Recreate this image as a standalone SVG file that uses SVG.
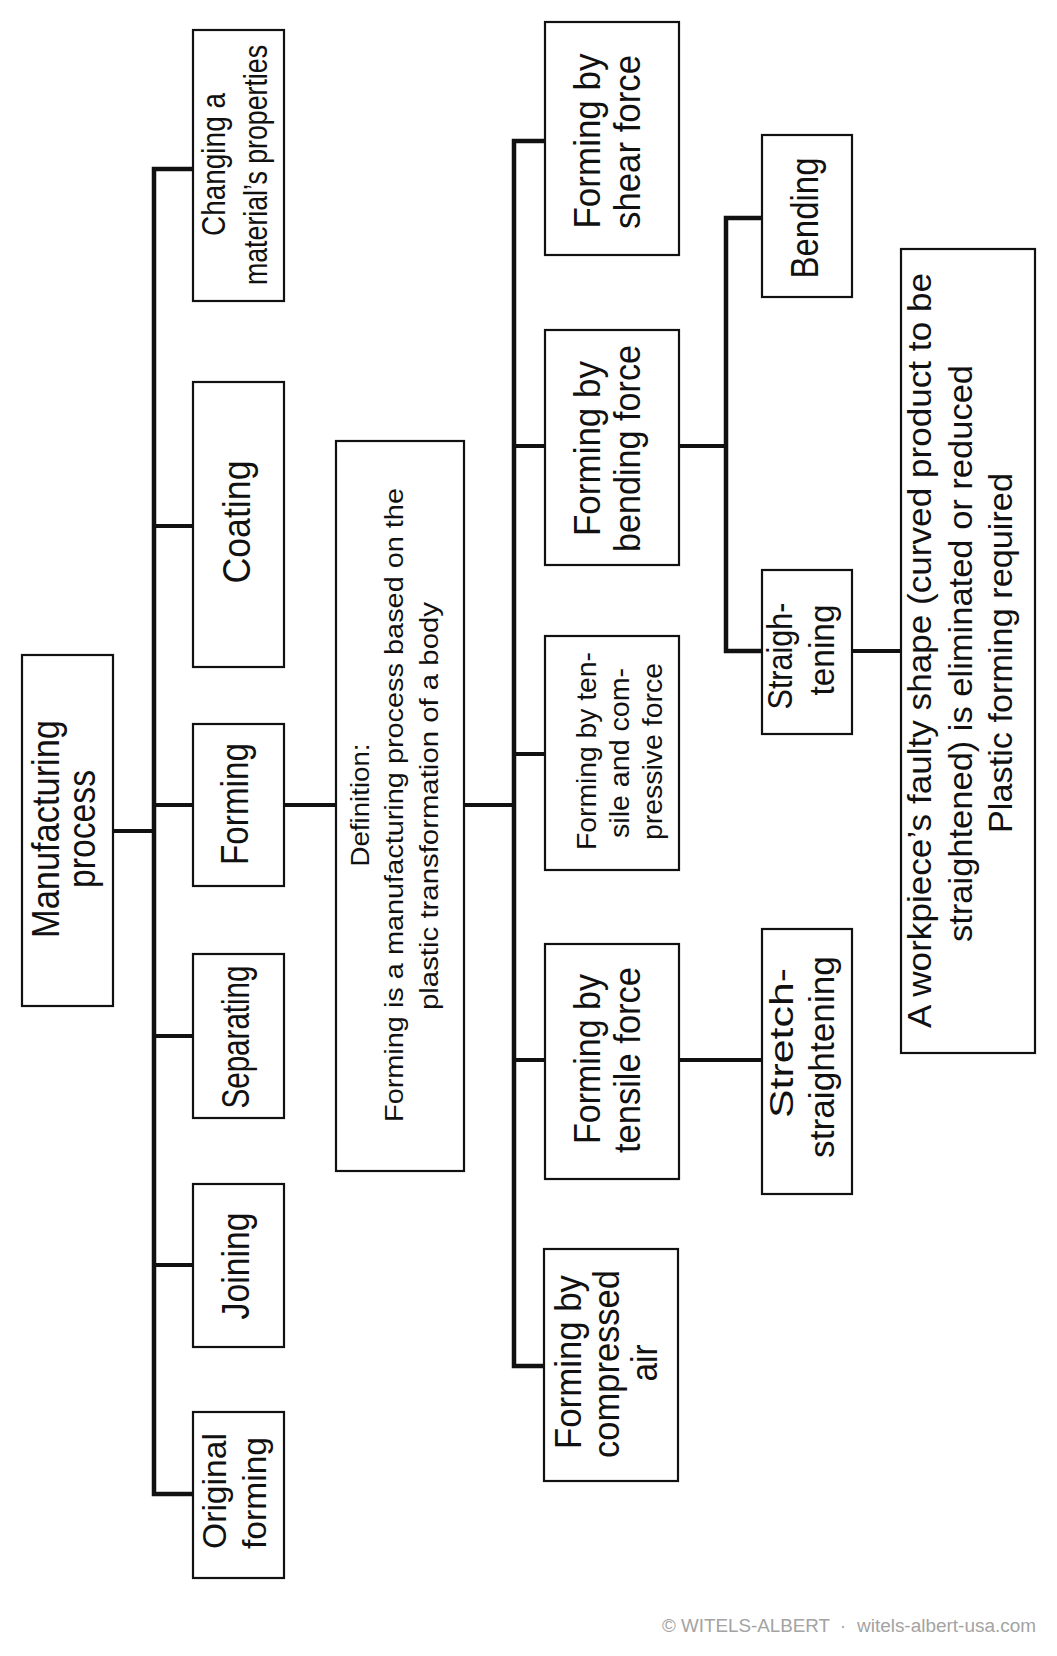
<svg xmlns="http://www.w3.org/2000/svg" width="1057" height="1656" viewBox="0 0 1057 1656">
<style>
.box{fill:#fff;stroke:#111;stroke-width:2.2}
.t{font-family:"Liberation Sans",Arial,Helvetica,sans-serif;fill:#111;text-anchor:middle}
.c{stroke:#111;stroke-width:4;fill:none;stroke-linejoin:miter}
.tr{stroke:#111;stroke-width:4.5;fill:none}
.wm{font-family:"Liberation Sans",Arial,Helvetica,sans-serif;fill:#a3a3a3;font-size:18px}
</style>
<rect width="1057" height="1656" fill="#fff"/>
<g id="connectors">
<path class="tr" d="M193,169H154V1494H193"/>
<path class="c" d="M113,831H154"/>
<path class="c" d="M154,526H193"/>
<path class="c" d="M154,805H193"/>
<path class="c" d="M154,1036H193"/>
<path class="c" d="M154,1265H193"/>
<path class="c" d="M284,805H336"/>
<path class="c" d="M464,805H514"/>
<path class="tr" d="M545,141H514V1366H545"/>
<path class="c" d="M514,446H545"/>
<path class="c" d="M514,754H545"/>
<path class="c" d="M514,1060H545"/>
<path class="c" d="M679,446H726"/>
<path class="tr" d="M762,218H726V651H762"/>
<path class="c" d="M852,651H901"/>
<path class="c" d="M679,1060H762"/>
</g>
<g id="manufacturing-process">
<rect class="box" x="22" y="655" width="91" height="351"/>
<text class="t" font-size="38" transform="translate(59,829) rotate(-90)" textLength="218" lengthAdjust="spacingAndGlyphs">Manufacturing</text>
<text class="t" font-size="38" transform="translate(95,829) rotate(-90)" textLength="118" lengthAdjust="spacingAndGlyphs">process</text>
</g>
<g id="changing-properties">
<rect class="box" x="193" y="30" width="91" height="271"/>
<text class="t" font-size="33" transform="translate(225,164.5) rotate(-90)" textLength="143" lengthAdjust="spacingAndGlyphs">Changing a</text>
<text class="t" font-size="33" transform="translate(267,165) rotate(-90)" textLength="240" lengthAdjust="spacingAndGlyphs">material’s properties</text>
</g>
<g id="coating">
<rect class="box" x="193" y="382" width="91" height="285"/>
<text class="t" font-size="38" transform="translate(250,522) rotate(-90)" textLength="123" lengthAdjust="spacingAndGlyphs">Coating</text>
</g>
<g id="forming">
<rect class="box" x="193" y="724" width="91" height="162"/>
<text class="t" font-size="38" transform="translate(248,804) rotate(-90)" textLength="122" lengthAdjust="spacingAndGlyphs">Forming</text>
</g>
<g id="separating">
<rect class="box" x="193" y="954" width="91" height="164"/>
<text class="t" font-size="38" transform="translate(249,1037) rotate(-90)" textLength="143" lengthAdjust="spacingAndGlyphs">Separating</text>
</g>
<g id="joining">
<rect class="box" x="193" y="1184" width="91" height="163"/>
<text class="t" font-size="38" transform="translate(249,1266) rotate(-90)" textLength="107" lengthAdjust="spacingAndGlyphs">Joining</text>
</g>
<g id="original-forming">
<rect class="box" x="193" y="1412" width="91" height="166"/>
<text class="t" font-size="34" transform="translate(226,1491) rotate(-90)" textLength="116" lengthAdjust="spacingAndGlyphs">Original</text>
<text class="t" font-size="34" transform="translate(266,1493) rotate(-90)" textLength="112" lengthAdjust="spacingAndGlyphs">forming</text>
</g>
<g id="definition">
<rect class="box" x="336" y="441" width="128" height="730"/>
<text class="t" font-size="26.5" transform="translate(369,805) rotate(-90)" textLength="123" lengthAdjust="spacingAndGlyphs">Definition:</text>
<text class="t" font-size="26.5" transform="translate(403,805) rotate(-90)" textLength="634" lengthAdjust="spacingAndGlyphs">Forming is a manufacturing process based on the</text>
<text class="t" font-size="26.5" transform="translate(438,806) rotate(-90)" textLength="408" lengthAdjust="spacingAndGlyphs">plastic transformation of a body</text>
</g>
<g id="shear-force">
<rect class="box" x="545" y="22" width="134" height="233"/>
<text class="t" font-size="36" transform="translate(600,141) rotate(-90)" textLength="175" lengthAdjust="spacingAndGlyphs">Forming by</text>
<text class="t" font-size="36" transform="translate(640,142) rotate(-90)" textLength="174" lengthAdjust="spacingAndGlyphs">shear force</text>
</g>
<g id="bending-force">
<rect class="box" x="545" y="330" width="134" height="235"/>
<text class="t" font-size="36" transform="translate(600,448.5) rotate(-90)" textLength="175" lengthAdjust="spacingAndGlyphs">Forming by</text>
<text class="t" font-size="36" transform="translate(640,448.5) rotate(-90)" textLength="207" lengthAdjust="spacingAndGlyphs">bending force</text>
</g>
<g id="tensile-compressive-force">
<rect class="box" x="545" y="636" width="134" height="234"/>
<text class="t" font-size="28" transform="translate(596,751) rotate(-90)" textLength="198" lengthAdjust="spacingAndGlyphs">Forming by ten-</text>
<text class="t" font-size="28" transform="translate(629,753) rotate(-90)" textLength="170" lengthAdjust="spacingAndGlyphs">sile and com-</text>
<text class="t" font-size="28" transform="translate(662,751.5) rotate(-90)" textLength="177" lengthAdjust="spacingAndGlyphs">pressive force</text>
</g>
<g id="tensile-force">
<rect class="box" x="545" y="944" width="134" height="235"/>
<text class="t" font-size="36" transform="translate(600,1059) rotate(-90)" textLength="170" lengthAdjust="spacingAndGlyphs">Forming by</text>
<text class="t" font-size="36" transform="translate(640,1060) rotate(-90)" textLength="186" lengthAdjust="spacingAndGlyphs">tensile force</text>
</g>
<g id="compressed-air">
<rect class="box" x="544" y="1249" width="134" height="232"/>
<text class="t" font-size="36" transform="translate(581,1362) rotate(-90)" textLength="174" lengthAdjust="spacingAndGlyphs">Forming by</text>
<text class="t" font-size="36" transform="translate(619,1364) rotate(-90)" textLength="188" lengthAdjust="spacingAndGlyphs">compressed</text>
<text class="t" font-size="36" transform="translate(657,1363) rotate(-90)" textLength="37" lengthAdjust="spacingAndGlyphs">air</text>
</g>
<g id="bending">
<rect class="box" x="762" y="135" width="90" height="162"/>
<text class="t" font-size="38" transform="translate(818,218) rotate(-90)" textLength="121" lengthAdjust="spacingAndGlyphs">Bending</text>
</g>
<g id="straightening">
<rect class="box" x="762" y="570" width="90" height="164"/>
<text class="t" font-size="35" transform="translate(792,656) rotate(-90)" textLength="107" lengthAdjust="spacingAndGlyphs">Straigh-</text>
<text class="t" font-size="35" transform="translate(834,650) rotate(-90)" textLength="91" lengthAdjust="spacingAndGlyphs">tening</text>
</g>
<g id="stretch-straightening">
<rect class="box" x="762" y="929" width="90" height="265"/>
<text class="t" font-size="34" transform="translate(793,1043) rotate(-90)" textLength="150" lengthAdjust="spacingAndGlyphs">Stretch-</text>
<text class="t" font-size="35" transform="translate(834,1057) rotate(-90)" textLength="202" lengthAdjust="spacingAndGlyphs">straightening</text>
</g>
<g id="straightening-note">
<rect class="box" x="901" y="249" width="134" height="804"/>
<text class="t" font-size="33" transform="translate(931,650.5) rotate(-90)" textLength="755" lengthAdjust="spacingAndGlyphs">A workpiece’s faulty shape (curved product to be</text>
<text class="t" font-size="33" transform="translate(972,653.5) rotate(-90)" textLength="577" lengthAdjust="spacingAndGlyphs">straightened) is eliminated or reduced</text>
<text class="t" font-size="33" transform="translate(1012,653) rotate(-90)" textLength="360" lengthAdjust="spacingAndGlyphs">Plastic forming required</text>
</g>
<g id="watermark">
<text class="wm" x="662" y="1632" textLength="168" lengthAdjust="spacingAndGlyphs">© WITELS-ALBERT</text>
<text class="wm" x="843" y="1632" text-anchor="middle">·</text>
<text class="wm" x="857" y="1632" textLength="179" lengthAdjust="spacingAndGlyphs">witels-albert-usa.com</text>
</g>
</svg>
